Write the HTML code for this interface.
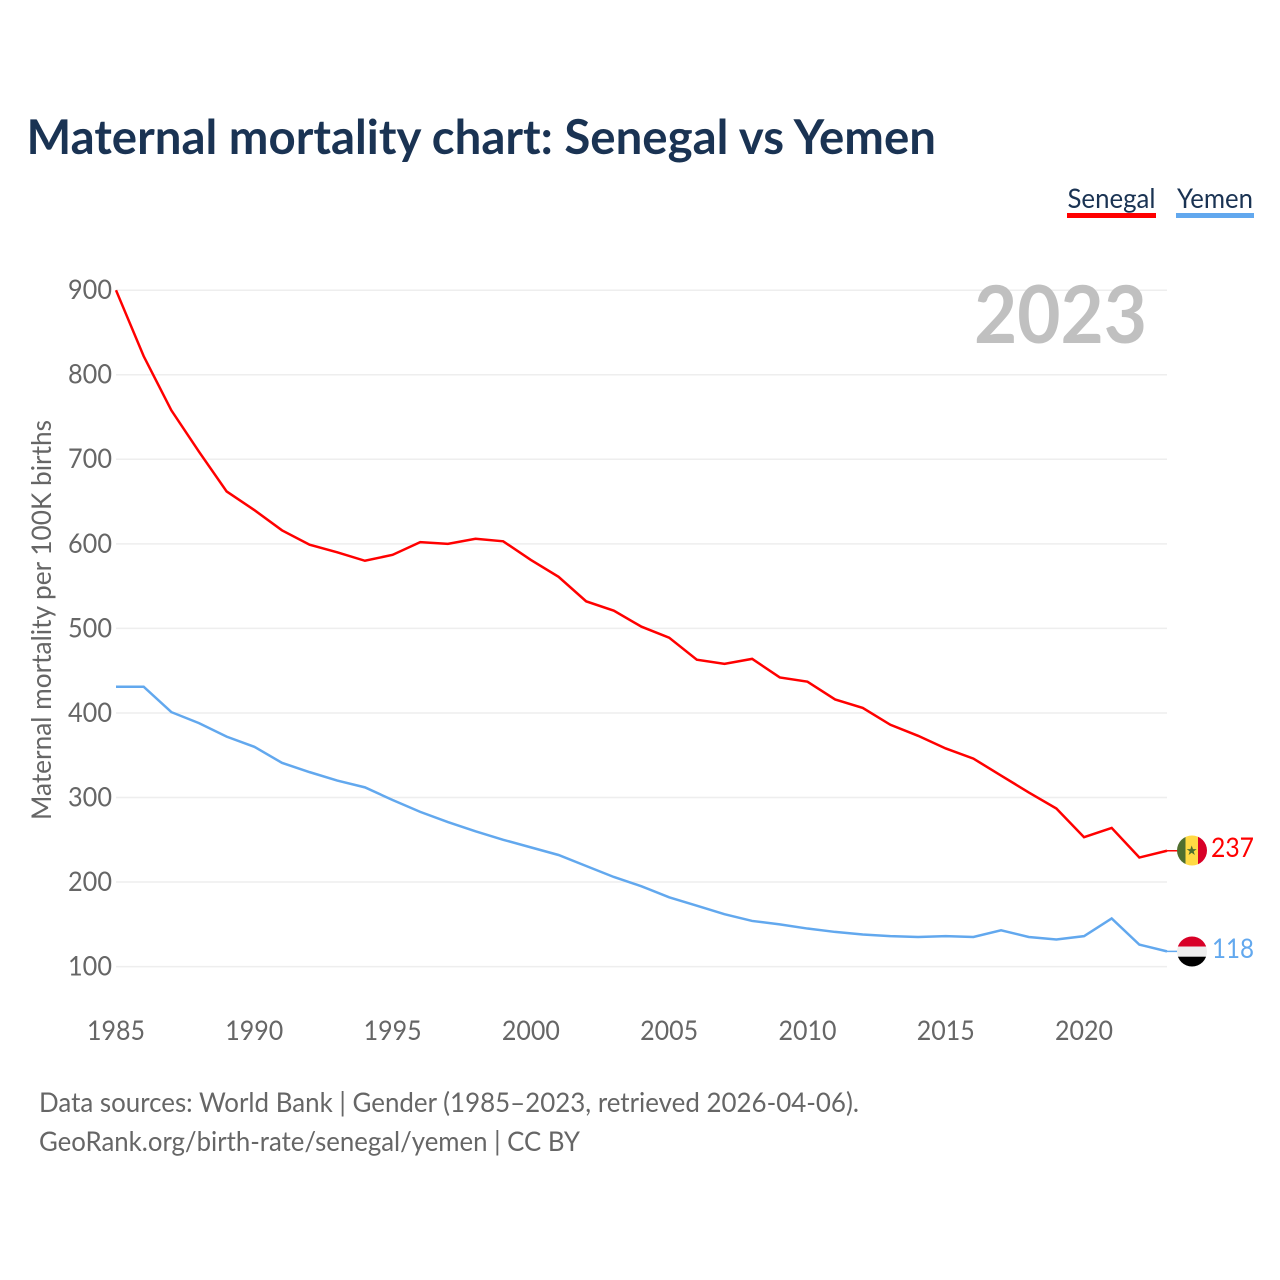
<!DOCTYPE html>
<html lang="en">
<head>
<meta charset="utf-8">
<title>Maternal mortality chart: Senegal vs Yemen</title>
<style>
html,body{margin:0;padding:0;background:#fff;width:1280px;height:1280px;overflow:hidden}
svg{display:block}
text{font-family:"Lato","Carlito","Liberation Sans",sans-serif}
.tick{font-size:27px;fill:#666}
</style>
</head>
<body>
<svg id="chart" xmlns="http://www.w3.org/2000/svg" width="1280" height="1280" viewBox="0 0 1280 1280">
  <defs>
    <clipPath id="clip-sn"><circle cx="1192" cy="850.5" r="15"/></clipPath>
    <clipPath id="clip-ye"><circle cx="1192" cy="951.5" r="15"/></clipPath>
  </defs>
  <text x="26.5" y="154" font-size="48" font-weight="700" fill="#1a3353" textLength="909.5" lengthAdjust="spacingAndGlyphs">Maternal mortality chart: Senegal vs Yemen</text>

  <g>
    <text x="1067.5" y="208" font-size="27" fill="#1a3353" textLength="88" lengthAdjust="spacingAndGlyphs">Senegal</text>
    <rect x="1067" y="213" width="89" height="5" fill="#ff0000"/>
  </g>
  <g>
    <text x="1177" y="208" font-size="27" fill="#1a3353" textLength="76" lengthAdjust="spacingAndGlyphs">Yemen</text>
    <rect x="1176" y="213" width="78" height="5" fill="#62a8ee"/>
  </g>

  <g id="grid"></g>
  <g id="y-ticks"></g>
  <g id="x-ticks"></g>

  <text x="974" y="343" font-size="80" font-weight="700" fill="#c0c0c0" textLength="173" lengthAdjust="spacingAndGlyphs">2023</text>

  <text transform="translate(51,820) rotate(-90)" x="0" y="0" font-size="27" fill="#666" textLength="400" lengthAdjust="spacingAndGlyphs">Maternal mortality per 100K births</text>

  <g id="series"></g>

  <g clip-path="url(#clip-sn)">
    <rect x="1177" y="835" width="8.5" height="31" fill="#4f6f2f"/>
    <rect x="1185.5" y="835" width="12.5" height="31" fill="#ffda44"/>
    <rect x="1198" y="835" width="9" height="31" fill="#d80027"/>
    <polygon points="1191.7,845.5 1193,849.1 1196.7,849.1 1193.7,851.4 1194.8,855 1191.7,852.8 1188.6,855 1189.7,851.4 1186.7,849.1 1190.4,849.1" fill="#4f6f2f"/>
  </g>
  <g clip-path="url(#clip-ye)">
    <rect x="1177" y="936" width="30" height="10.5" fill="#d80027"/>
    <rect x="1177" y="946.5" width="30" height="10.2" fill="#eeeeee"/>
    <rect x="1177" y="956.7" width="30" height="10" fill="#000"/>
  </g>

  <text id="label-senegal" x="1211" y="857" font-size="27" fill="#ff0000" textLength="43" lengthAdjust="spacingAndGlyphs"></text>
  <text id="label-yemen" x="1212" y="958" font-size="27" fill="#62a8ee" textLength="42" lengthAdjust="spacingAndGlyphs"></text>

  <text x="39" y="1112" font-size="27" fill="#666" textLength="820" lengthAdjust="spacingAndGlyphs">Data sources: World Bank | Gender (1985–2023, retrieved 2026-04-06).</text>
  <text x="39" y="1151" font-size="27" fill="#666" textLength="541" lengthAdjust="spacingAndGlyphs">GeoRank.org/birth-rate/senegal/yemen | CC BY</text>
</svg>
<script>
const years = [1985,1986,1987,1988,1989,1990,1991,1992,1993,1994,1995,1996,1997,1998,1999,2000,2001,2002,2003,2004,2005,2006,2007,2008,2009,2010,2011,2012,2013,2014,2015,2016,2017,2018,2019,2020,2021,2022,2023];
const senegal = [900,822,758,709,662,640,616,599,590,580,587,602,600,606,603,581,561,532,521,502,489,463,458,464,442,437,416,406,386,373,358,346,326,306,287,253,264,229,237];
const yemen = [431,431,401,388,372,360,341,330,320,312,297,283,271,260,250,241,232,219,206,195,182,172,162,154,150,145,141,138,136,135,136,135,143,135,132,136,157,126,118];
const yTicks = [100,200,300,400,500,600,700,800,900];
const xTicks = [1985,1990,1995,2000,2005,2010,2015,2020];

const NS = 'http://www.w3.org/2000/svg';
const xScale = function (year) { return 116 + (year - 1985) * (1167 - 116) / (2023 - 1985); };
const yScale = function (value) { return 966.6 - (value - 100) * (966.6 - 290.2) / (900 - 100); };

const gridGroup = document.getElementById('grid');
const yTickGroup = document.getElementById('y-ticks');
const xTickGroup = document.getElementById('x-ticks');
const seriesGroup = document.getElementById('series');

yTicks.forEach(function (tick) {
  const line = document.createElementNS(NS, 'line');
  
  
  line.setAttribute('x1', 116);
  line.setAttribute('x2', 1167);
  line.setAttribute('y1', yScale(tick));
  line.setAttribute('y2', yScale(tick));
  line.setAttribute('stroke', '#eeeeee');
  line.setAttribute('stroke-width', '1.5');
  gridGroup.appendChild(line);

  const label = document.createElementNS(NS, 'text');
  
  
  label.setAttribute('class', 'tick');
  label.setAttribute('x', 112);
  label.setAttribute('y', yScale(tick) + 8.9);
  label.setAttribute('text-anchor', 'end');
  label.setAttribute('textLength', '44');
  label.setAttribute('lengthAdjust', 'spacingAndGlyphs');
  label.textContent = tick;
  yTickGroup.appendChild(label);
});

xTicks.forEach(function (tick) {
  const label = document.createElementNS(NS, 'text');
  
  
  label.setAttribute('class', 'tick');
  label.setAttribute('x', xScale(tick) - 29);
  label.setAttribute('y', 1040);
  label.setAttribute('textLength', '58');
  label.setAttribute('lengthAdjust', 'spacingAndGlyphs');
  label.textContent = tick;
  xTickGroup.appendChild(label);
});

function linePoints(values) {
  return values.map(function (value, i) {
    return xScale(years[i]).toFixed(2) + ',' + yScale(value).toFixed(2);
  }).join(' ');
}

const senegalLine = document.createElementNS(NS, 'polyline');


senegalLine.setAttribute('points', linePoints(senegal));
senegalLine.setAttribute('fill', 'none');
senegalLine.setAttribute('stroke', '#ff0000');
senegalLine.setAttribute('stroke-width', '2.5');
seriesGroup.appendChild(senegalLine);

const yemenLine = document.createElementNS(NS, 'polyline');


yemenLine.setAttribute('points', linePoints(yemen));
yemenLine.setAttribute('fill', 'none');
yemenLine.setAttribute('stroke', '#62a8ee');
yemenLine.setAttribute('stroke-width', '2.5');
seriesGroup.appendChild(yemenLine);

const senegalStub = document.createElementNS(NS, 'line');


senegalStub.setAttribute('x1', xScale(2023));
senegalStub.setAttribute('x2', 1178);
senegalStub.setAttribute('y1', yScale(senegal[senegal.length - 1]));
senegalStub.setAttribute('y2', yScale(senegal[senegal.length - 1]));
senegalStub.setAttribute('stroke', '#ff0000');
senegalStub.setAttribute('stroke-width', '1.5');
seriesGroup.appendChild(senegalStub);

const yemenStub = document.createElementNS(NS, 'line');


yemenStub.setAttribute('x1', xScale(2023));
yemenStub.setAttribute('x2', 1178);
yemenStub.setAttribute('y1', yScale(yemen[yemen.length - 1]));
yemenStub.setAttribute('y2', yScale(yemen[yemen.length - 1]));
yemenStub.setAttribute('stroke', '#62a8ee');
yemenStub.setAttribute('stroke-width', '1.5');
seriesGroup.appendChild(yemenStub);

document.getElementById('label-senegal').textContent = senegal[senegal.length - 1];
document.getElementById('label-yemen').textContent = yemen[yemen.length - 1];
</script>
</body>
</html>
